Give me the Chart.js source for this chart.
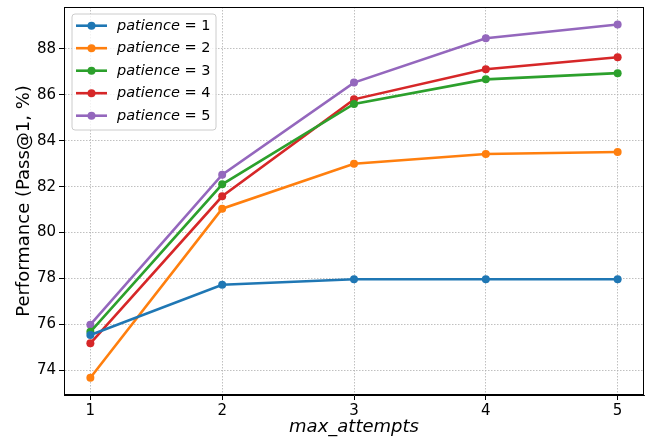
<!DOCTYPE html>
<html><head><meta charset="utf-8">
<script src="https://cdn.jsdelivr.net/npm/chart.js@4/dist/chart.umd.min.js"></script>
<style>html,body{margin:0;padding:0;background:#fff}#wrap{width:649px;height:438px}</style>
</head><body><div id="wrap"><canvas id="c" width="649" height="438"></canvas></div>
<script>
const attempts = [1, 2, 3, 4, 5];
const patienceLevels = [1, 2, 3, 4, 5];
const patience1 = [75.54, 77.73, 77.97, 77.97, 77.97];
const patience2 = [73.68, 81.04, 83.00, 83.42, 83.51];
const patience3 = [75.68, 82.10, 85.60, 86.67, 86.94];
const patience4 = [75.18, 81.58, 85.80, 87.11, 87.63];
const patience5 = [75.99, 82.52, 86.53, 88.46, 89.06];
const xTickValues = [1, 2, 3, 4, 5];
const yTickValues = [74, 76, 78, 80, 82, 84, 86, 88];
const colors = ['#1f77b4', '#ff7f0e', '#2ca02c', '#d62728', '#9467bd'];
const series = [patience1, patience2, patience3, patience4, patience5];
const FONT = "'DejaVu Sans', sans-serif";

const datasets = series.map((vals, i) => ({
  label: 'patience = ' + patienceLevels[i],
  data: attempts.map((a, j) => ({x: a, y: vals[j]})),
  borderColor: colors[i],
  backgroundColor: colors[i],
  pointBackgroundColor: colors[i],
  pointBorderWidth: 0,
  pointRadius: 4,
  borderWidth: 2.6,
  tension: 0,
  fill: false
}));

const framePlugin = {
  id: 'frame',
  afterDraw(chart) {
    const {ctx, chartArea: a} = chart;
    ctx.save();
    ctx.strokeStyle = '#000';
    ctx.lineWidth = 1;
    ctx.strokeRect(Math.round(a.left) + 0.5, Math.round(a.top) + 0.5, Math.round(a.right - a.left) - 1, Math.round(a.bottom - a.top) - 1);
    ctx.restore();
  }
};

const legendPlugin = {
  id: 'mplLegend',
  afterDatasetsDraw(chart) {
    const ctx = chart.ctx;
    ctx.save();
    const x0 = 72, y0 = 14, w = 144, h = 116, r = 3;
    ctx.beginPath();
    ctx.moveTo(x0 + r, y0);
    ctx.lineTo(x0 + w - r, y0); ctx.quadraticCurveTo(x0 + w, y0, x0 + w, y0 + r);
    ctx.lineTo(x0 + w, y0 + h - r); ctx.quadraticCurveTo(x0 + w, y0 + h, x0 + w - r, y0 + h);
    ctx.lineTo(x0 + r, y0 + h); ctx.quadraticCurveTo(x0, y0 + h, x0, y0 + h - r);
    ctx.lineTo(x0, y0 + r); ctx.quadraticCurveTo(x0, y0, x0 + r, y0);
    ctx.closePath();
    ctx.fillStyle = 'rgba(255,255,255,0.8)';
    ctx.fill();
    ctx.strokeStyle = '#cccccc';
    ctx.lineWidth = 1;
    ctx.stroke();
    chart.data.datasets.forEach((ds, i) => {
      const cy = 25.7 + i * 22.5;
      ctx.strokeStyle = ds.borderColor;
      ctx.lineWidth = 2.6;
      ctx.beginPath(); ctx.moveTo(76, cy); ctx.lineTo(107, cy); ctx.stroke();
      ctx.fillStyle = ds.borderColor;
      ctx.beginPath(); ctx.arc(91.5, cy, 4, 0, Math.PI * 2); ctx.fill();
      ctx.fillStyle = '#000';
      ctx.textBaseline = 'middle';
      ctx.textAlign = 'left';
      ctx.font = 'italic 14.5px ' + FONT;
      const word = 'patience';
      ctx.fillText(word, 117, cy + 0.5);
      const ww = ctx.measureText(word).width;
      ctx.font = '14.5px ' + FONT;
      ctx.fillText(' = ' + patienceLevels[i], 117 + ww, cy + 0.5);
    });
    ctx.restore();
  }
};

new Chart(document.getElementById('c'), {
  type: 'line',
  data: {datasets},
  options: {
    responsive: false,
    animation: false,
    devicePixelRatio: 1,
    layout: {padding: {top: 7, right: 5, left: 0, bottom: 0}},
    plugins: {legend: {display: false}, tooltip: {enabled: false}},
    scales: {
      x: {
        type: 'linear', min: 0.8, max: 5.2,
        afterBuildTicks: s => { s.ticks = xTickValues.map(v => ({value: v})); },
        afterFit: s => { s.height = 43; s.paddingLeft = 0; s.paddingRight = 0; },
        ticks: {color: '#000', font: {family: FONT, size: 15}, padding: 2, callback: v => String(v)},
        grid: {color: '#b0b0b0', lineWidth: 0.8, tickLength: 5, tickColor: '#000', tickWidth: 1, tickBorderDash: []},
        border: {display: true, color: '#000', width: 1, dash: [1.5, 1.5]},
        title: {display: true, text: 'max_attempts', color: '#000', font: {family: FONT, size: 18, style: 'italic'}, padding: {top: 0, bottom: 0}}
      },
      y: {
        type: 'linear', min: 72.93, max: 89.82,
        afterBuildTicks: s => { s.ticks = yTickValues.map(v => ({value: v})); },
        afterFit: s => { s.width = 64; s.paddingTop = 0; s.paddingBottom = 0; },
        ticks: {color: '#000', font: {family: FONT, size: 15}, padding: 3, callback: v => String(v)},
        grid: {color: '#b0b0b0', lineWidth: 0.8, tickLength: 5, tickColor: '#000', tickWidth: 1, tickBorderDash: []},
        border: {display: true, color: '#000', width: 1, dash: [1.5, 1.5]},
        title: {display: true, text: 'Performance (Pass@1, %)', color: '#000', font: {family: FONT, size: 18}, padding: {top: 14, bottom: 0}}
      }
    }
  },
  plugins: [framePlugin, legendPlugin]
});
</script></body></html>
